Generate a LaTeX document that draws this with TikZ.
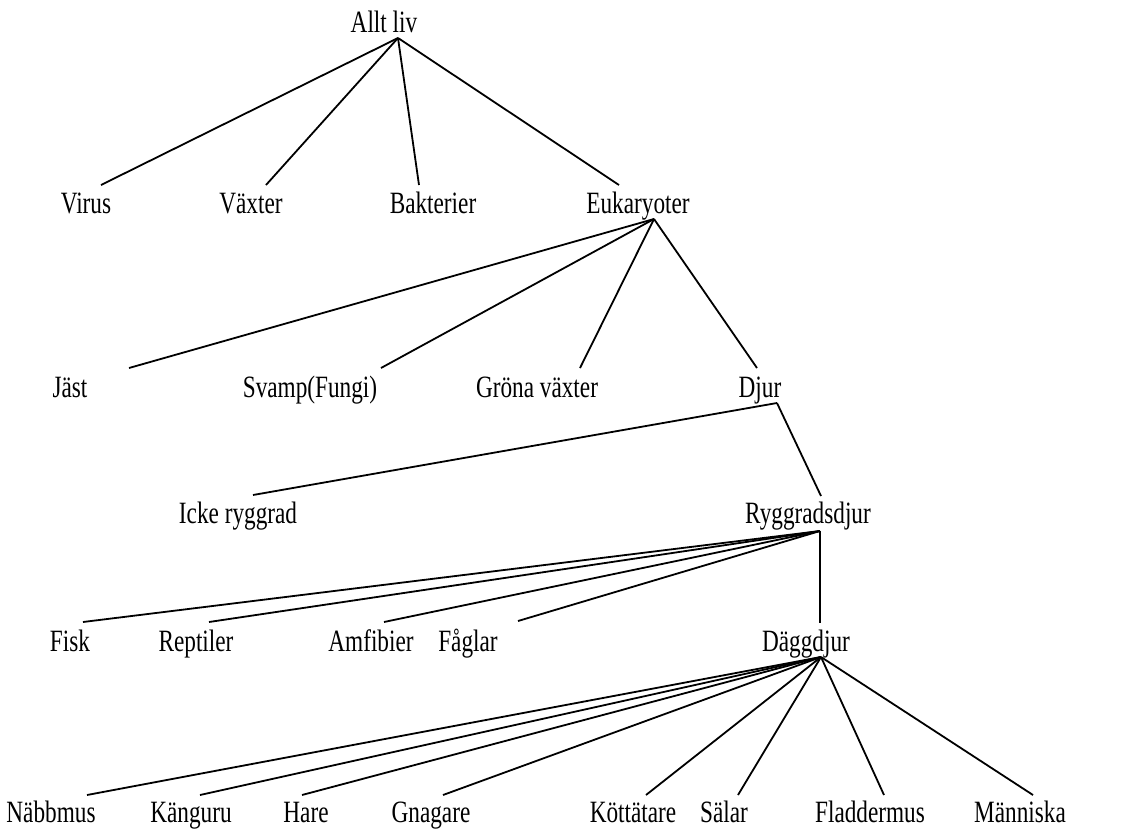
\documentclass[tikz,border=0pt]{standalone}
\usepackage{fontspec}
\setmainfont{Liberation Serif}[FakeStretch=0.75]
\begin{document}
\begin{tikzpicture}[x=1pt,y=-1pt,
  lbl/.style={anchor=base,inner sep=0pt,font=\fontsize{31}{31}\selectfont},
  edge/.style={line width=1.8pt}]
\useasboundingbox (0,0) rectangle (1146,828);
% level 0
\node[lbl] (alltliv) at (384,32) {Allt liv};
\coordinate (alltliv-j) at (398,38);
% level 1
\node[lbl] (virus) at (86,213) {Virus};
\node[lbl] (vaxter) at (251,213) {Växter};
\node[lbl] (bakterier) at (433,213) {Bakterier};
\node[lbl] (eukaryoter) at (638,213) {Eukaryoter};
\coordinate (virus-t) at (101,185);
\coordinate (vaxter-t) at (266,185);
\coordinate (bakterier-t) at (419,185);
\coordinate (eukaryoter-t) at (619,185);
\coordinate (eukaryoter-j) at (654,219);
% level 2
\node[lbl] (jast) at (70,397) {Jäst};
\node[lbl] (svamp) at (310,397) {Svamp(Fungi)};
\node[lbl] (grona) at (537,397) {Gröna växter};
\node[lbl] (djur) at (760,397) {Djur};
\coordinate (jast-t) at (129,368);
\coordinate (svamp-t) at (381,368);
\coordinate (grona-t) at (580,368);
\coordinate (djur-t) at (757,368);
\coordinate (djur-j) at (777,403);
% level 3
\node[lbl] (icke) at (238,523) {Icke ryggrad};
\node[lbl] (rygg) at (808,523) {Ryggradsdjur};
\coordinate (icke-t) at (253,495);
\coordinate (rygg-t) at (821,496);
\coordinate (rygg-j) at (820,531);
% level 4
\node[lbl] (fisk) at (70,651) {Fisk};
\node[lbl] (reptiler) at (196,651) {Reptiler};
\node[lbl] (amfibier) at (371,651) {Amfibier};
\node[lbl] (faglar) at (468,651) {Fåglar};
\node[lbl] (dagg) at (806,651) {Däggdjur};
\coordinate (fisk-t) at (83,622);
\coordinate (reptiler-t) at (209,622);
\coordinate (amfibier-t) at (384,622);
\coordinate (faglar-t) at (518,621);
\coordinate (dagg-t) at (820,623);
\coordinate (dagg-j) at (821,657);
% level 5
\node[lbl] (nabbmus) at (51,822) {Näbbmus};
\node[lbl] (kanguru) at (191,822) {Känguru};
\node[lbl] (hare) at (306,822) {Hare};
\node[lbl] (gnagare) at (431,822) {Gnagare};
\node[lbl] (kott) at (633,822) {Köttätare};
\node[lbl] (salar) at (724,822) {Sälar};
\node[lbl] (fladder) at (870,822) {Fladdermus};
\node[lbl] (manniska) at (1020,822) {Människa};
\coordinate (nabbmus-t) at (87,795);
\coordinate (kanguru-t) at (200,795);
\coordinate (hare-t) at (302,795);
\coordinate (gnagare-t) at (443,795);
\coordinate (kott-t) at (646,795);
\coordinate (salar-t) at (738,795);
\coordinate (fladder-t) at (884,795);
\coordinate (manniska-t) at (1033,795);
% connectors
\foreach \c in {virus,vaxter,bakterier,eukaryoter}
  \draw[edge] (alltliv-j) -- (\c-t);
\foreach \c in {jast,svamp,grona,djur}
  \draw[edge] (eukaryoter-j) -- (\c-t);
\foreach \c in {icke,rygg}
  \draw[edge] (djur-j) -- (\c-t);
\foreach \c in {fisk,reptiler,amfibier,faglar,dagg}
  \draw[edge] (rygg-j) -- (\c-t);
\foreach \c in {nabbmus,kanguru,hare,gnagare,kott,salar,fladder,manniska}
  \draw[edge] (dagg-j) -- (\c-t);
\end{tikzpicture}
\end{document}
